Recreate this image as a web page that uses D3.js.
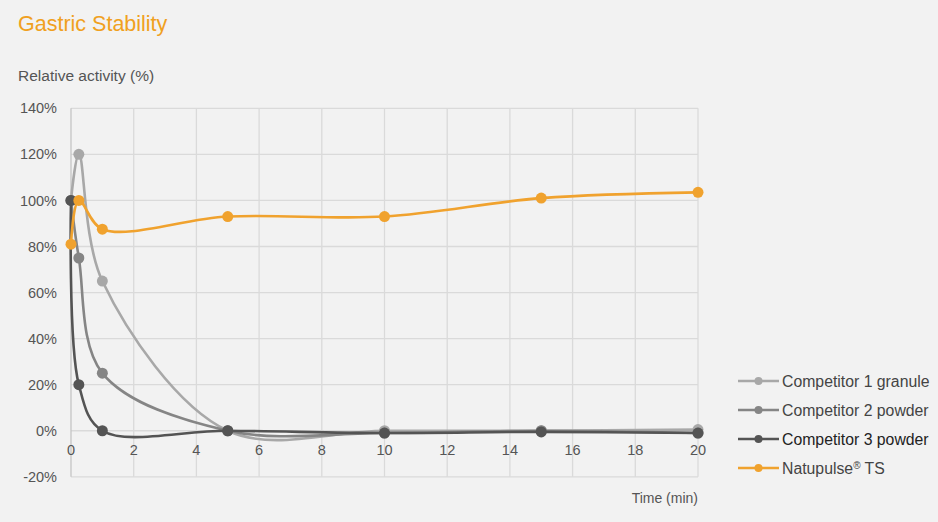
<!DOCTYPE html>
<html><head><meta charset="utf-8">
<script src="https://cdn.jsdelivr.net/npm/d3@7"></script>
<style>
html,body{margin:0;padding:0;background:#f2f2f2;}
svg{display:block;font-family:"Liberation Sans",Arial,sans-serif;}
</style></head>
<body>
<svg id="chart" width="938" height="522"></svg>
<script>
const times = [0, 0.25, 1, 5, 10, 15, 20];
const seriesNames = ["Competitor 1 granule", "Competitor 2 powder", "Competitor 3 powder", "Natupulse"];
const comp1 = [100, 120, 65, 0, 0, 0, 0.5];
const comp2 = [100, 75, 25, 0, -1, 0, -1];
const comp3 = [100, 20, 0, 0, -1, -0.5, -1];
const natupulse = [81, 100, 87.5, 93, 93, 101, 103.5];
const xTicks = [0, 2, 4, 6, 8, 10, 12, 14, 16, 18, 20];
const yTicks = [-20, 0, 20, 40, 60, 80, 100, 120, 140];
const colors = ["#a8a8a8", "#858585", "#545454", "#f0a22e"];

const series = [comp1, comp2, comp3, natupulse].map((vals, i) => ({
  name: seriesNames[i], color: colors[i],
  points: vals.map((v, j) => ({t: times[j], v}))
}));

const svg = d3.select("#chart");
const x = d3.scaleLinear().domain([0, 20]).range([71, 698]);
const y = d3.scaleLinear().domain([-20, 140]).range([476.8, 108.3]);

// title
svg.append("text").attr("x", 18).attr("y", 31).attr("fill", "#f0a020")
  .attr("font-size", 21.5).text("Gastric Stability");
svg.append("text").attr("x", 18).attr("y", 81).attr("fill", "#555")
  .attr("font-size", 15.5).text("Relative activity (%)");

// grid
const grid = svg.append("g");
grid.selectAll("line.h").data(yTicks).join("line")
  .attr("x1", x(0)).attr("x2", x(20))
  .attr("y1", d => y(d)).attr("y2", d => y(d))
  .attr("stroke", "#dadada").attr("stroke-width", 1.3);
grid.selectAll("line.v").data(xTicks).join("line")
  .attr("y1", y(140)).attr("y2", y(-20))
  .attr("x1", d => x(d)).attr("x2", d => x(d))
  .attr("stroke", d => d === 0 ? "#c4c4c4" : "#dadada").attr("stroke-width", 1.3);

// y tick labels
svg.append("g").selectAll("text").data(yTicks).join("text")
  .attr("x", 57).attr("y", d => y(d)).attr("dy", "0.35em")
  .attr("text-anchor", "end").attr("fill", "#555").attr("font-size", 14.5)
  .text(d => d + "%");
// x tick labels
svg.append("g").selectAll("text").data(xTicks).join("text")
  .attr("x", d => x(d)).attr("y", y(0) + 19).attr("dy", "0.35em")
  .attr("text-anchor", "middle").attr("fill", "#555").attr("font-size", 14.5)
  .text(d => d);
svg.append("text").attr("x", 698).attr("y", 503).attr("text-anchor", "end")
  .attr("fill", "#555").attr("font-size", 14).text("Time (min)");

// lines
const line = d3.line().x(d => x(d.t)).y(d => y(d.v)).curve(d3.curveCatmullRom.alpha(0.5));
series.forEach(s => {
  const g = svg.append("g");
  g.append("path").attr("d", line(s.points)).attr("fill", "none")
    .attr("stroke", s.color).attr("stroke-width", 2.6);
  g.selectAll("circle").data(s.points).join("circle")
    .attr("cx", d => x(d.t)).attr("cy", d => y(d.v)).attr("r", 5.5).attr("fill", s.color);
});

// legend
const leg = svg.append("g");
series.forEach((s, i) => {
  const ly = 381 + i * 29;
  leg.append("line").attr("x1", 738).attr("x2", 779).attr("y1", ly).attr("y2", ly)
    .attr("stroke", s.color).attr("stroke-width", 2.6);
  leg.append("circle").attr("cx", 758.5).attr("cy", ly).attr("r", 4).attr("fill", s.color);
  const t = leg.append("text").attr("x", 782).attr("y", ly).attr("dy", "0.35em")
    .attr("fill", i === 2 ? "#222" : "#444").attr("font-size", 15.8);
  if (i === 3) {
    t.append("tspan").text("Natupulse");
    t.append("tspan").attr("font-size", 10).attr("baseline-shift", "super").text("®");
    t.append("tspan").text(" TS");
  } else t.text(s.name);
});
</script>
</body></html>
